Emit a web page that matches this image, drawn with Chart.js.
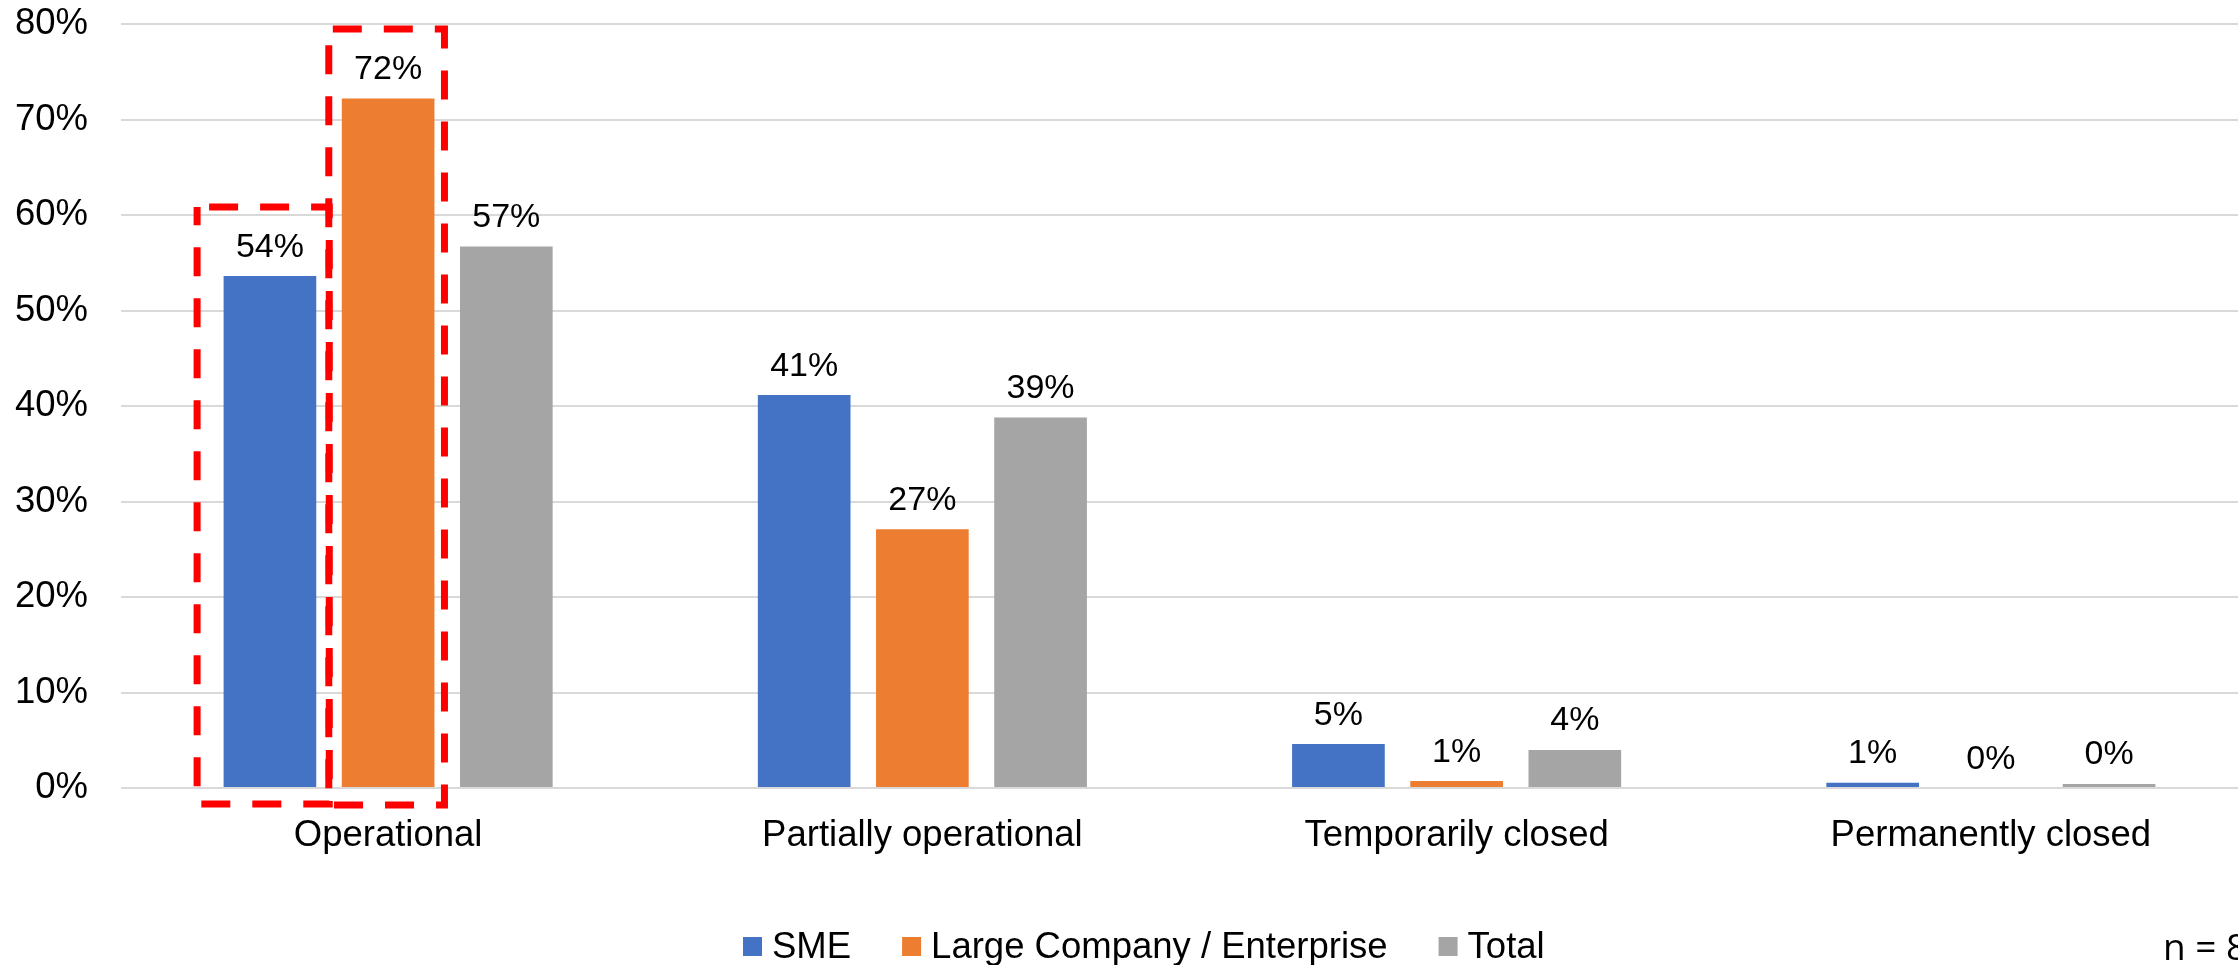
<!DOCTYPE html>
<html lang="en">
<head>
<meta charset="utf-8">
<title>Business status by company size</title>
<script src="https://cdn.jsdelivr.net/npm/chart.js@4.4.1/dist/chart.umd.min.js"></script>
<style>
    html, body { margin: 0; padding: 0; background: #ffffff; overflow: hidden; }
    #wrap { width: 2238px; height: 965px; overflow: hidden; }
    canvas { display: block; }
</style>
</head>
<body>
<div id="wrap">
    <canvas id="statusChart" width="2258" height="965"></canvas>
</div>
<script>
const categories = ['Operational', 'Partially operational', 'Temporarily closed', 'Permanently closed'];
const seriesNames = ['SME', 'Large Company / Enterprise', 'Total'];
const smeValues = [53.6, 41.15, 4.6, 0.55];
const largeValues = [72.2, 27.1, 0.73, 0];
const totalValues = [56.7, 38.8, 3.98, 0.42];
const seriesColors = ['#4472C4', '#ED7D31', '#A5A5A5'];
const yTicks = [0, 10, 20, 30, 40, 50, 60, 70, 80];
const sampleNote = 'n = 8';

(function() {
    const FONT = '"Liberation Sans", Arial, Helvetica, sans-serif';

    /**
     * Percentage above every bar
     */
    const valueLabels = {
        id: 'valueLabels',
        afterDatasetsDraw(chart) {
            const ctx = chart.ctx;
            ctx.save();
            ctx.font = '34px ' + FONT;
            ctx.fillStyle = '#000000';
            ctx.textAlign = 'center';
            ctx.textBaseline = 'alphabetic';
            chart.data.datasets.forEach((ds, i) => {
                chart.getDatasetMeta(i).data.forEach((bar, j) => {
                    ctx.fillText(Math.round(ds.data[j]) + '%', bar.x, bar.y - 19.5);
                });
            });
            ctx.restore();
        }
    };

    /**
     * Red dashed frames around the two Operational bars
     */
    const highlightBoxes = {
        id: 'highlightBoxes',
        afterDraw(chart) {
            const ctx = chart.ctx;
            const frames = [
                { dataset: 0, index: 0, left: 26.5, right: 13, top: 69, bottom: 17, phase: 39 },
                { dataset: 1, index: 0, left: 13, right: 10, top: 69.4, bottom: 18, phase: 47 }
            ];
            ctx.save();
            ctx.strokeStyle = '#FF0000';
            ctx.lineWidth = 7;
            ctx.setLineDash([29, 22]);
            frames.forEach(f => {
                const bar = chart.getDatasetMeta(f.dataset).data[f.index];
                const x0 = bar.x - bar.width / 2 - f.left;
                const x1 = bar.x + bar.width / 2 + f.right;
                const y0 = bar.y - f.top;
                const y1 = bar.base + f.bottom;
                ctx.lineDashOffset = f.phase;
                ctx.beginPath();
                ctx.rect(x0, y0, x1 - x0, y1 - y0);
                ctx.stroke();
            });
            ctx.restore();
        }
    };

    /**
     * Legend row and sample size note along the bottom
     */
    const bottomLegend = {
        id: 'bottomLegend',
        afterDraw(chart) {
            const ctx = chart.ctx;
            const box = 19;
            let x = 743;
            ctx.save();
            ctx.font = '36.5px ' + FONT;
            ctx.textBaseline = 'alphabetic';
            ctx.textAlign = 'left';
            chart.data.datasets.forEach(ds => {
                ctx.fillStyle = ds.backgroundColor;
                ctx.fillRect(x, 937, box, box);
                x += box + 10;
                ctx.fillStyle = '#000000';
                ctx.fillText(ds.label, x, 958);
                x += ctx.measureText(ds.label).width + 51;
            });

            ctx.font = '37px "Open Sans", "DejaVu Sans", sans-serif';
            ctx.fillText(sampleNote, 2163, 960);
            ctx.restore();
        }
    };

    Chart.defaults.font.family = FONT;
    Chart.defaults.color = '#000000';

    new Chart(document.getElementById('statusChart'), {
        type: 'bar',
        data: {
            labels: categories,
            datasets: [smeValues, largeValues, totalValues].map((values, i) => ({
                label: seriesNames[i],
                data: values,
                backgroundColor: seriesColors[i],
                borderWidth: 0,
                categoryPercentage: 0.6637,
                barPercentage: 0.784
            }))
        },
        options: {
            responsive: false,
            animation: false,
            layout: {
                padding: { top: 24, left: 15, right: 0, bottom: 111 }
            },
            plugins: {
                legend: { display: false },
                tooltip: { enabled: false }
            },
            scales: {
                x: {
                    grid: { display: false, drawTicks: false },
                    border: { display: false },
                    ticks: { font: { size: 36.5 }, color: '#000000', padding: 26, maxRotation: 0, autoSkip: false },
                    afterFit(scale) {
                        // fixed band under the plot for the category names
                        scale.height = 66;
                        scale.paddingLeft = 0;
                        scale.paddingRight = 0;
                    }
                },
                y: {
                    min: yTicks[0],
                    max: yTicks[yTicks.length - 1],
                    afterBuildTicks(scale) {
                        scale.ticks = yTicks.map(v => ({ value: v }));
                    },
                    afterFit(scale) {
                        scale.width = 106;
                        scale.paddingTop = 0;
                        scale.paddingBottom = 0;
                    },
                    grid: { color: '#D9D9D9', lineWidth: 2, drawTicks: false },
                    border: { display: false },
                    ticks: {
                        font: { size: 36.5 },
                        color: '#000000',
                        padding: 33,
                        callback: v => v + '%'
                    }
                }
            }
        },
        plugins: [valueLabels, highlightBoxes, bottomLegend]
    });
})();
</script>
</body>
</html>
